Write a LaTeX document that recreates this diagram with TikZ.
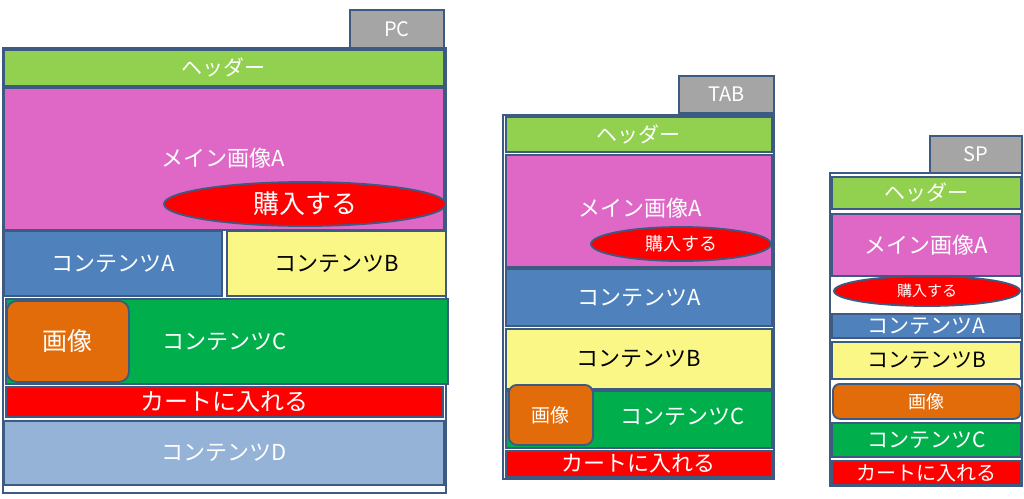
\documentclass[tikz,border=0pt]{standalone}
\usepackage{fontspec}
\setmainfont{Noto Sans CJK JP}
\usetikzlibrary{shapes.geometric}
\definecolor{bd}{HTML}{3C5A82}
\definecolor{hdr}{HTML}{92D050}
\definecolor{mag}{HTML}{DF68C6}
\definecolor{cA}{HTML}{4F81BD}
\definecolor{cB}{HTML}{FAF786}
\definecolor{cC}{HTML}{00AE4C}
\definecolor{img}{HTML}{E26B0A}
\definecolor{cart}{HTML}{FF0000}
\definecolor{cD}{HTML}{95B3D7}
\definecolor{tabg}{HTML}{A5A5A5}
\begin{document}
\begin{tikzpicture}[x=1pt,y=-1pt,
 box/.style={draw=bd,line width=1.8pt,inner sep=0pt,text=white},
 ell/.style={ellipse,draw=bd,line width=1.8pt,fill=cart,text=white,inner sep=0pt}]
\useasboundingbox (0,0) rectangle (1024,498);
\newcommand{\bx}[7]{\node[box,fill=#5,text=#6,minimum width={#3-#1},minimum height={#4-#2},font=\fontsize{#7}{#7}\selectfont,anchor=north west] at (#1,#2) {};}
% PC
\node[box,fill=tabg,minimum width=94,minimum height=38,anchor=north west,font=\fontsize{20}{20}\selectfont] (pct) at (349,9) {PC};
\node[box,fill=white,minimum width=443,minimum height=445,anchor=north west] (pc) at (2,47) {};
\node[box,fill=hdr,minimum width=440,minimum height=36,anchor=north west,font=\fontsize{21}{21}\selectfont] (pch) at (3,49) {ヘッダー};
\node[box,fill=mag,minimum width=440,minimum height=142,anchor=north west,font=\fontsize{22}{22}\selectfont] (pcm) at (3,87) {};
\node[text=white,font=\fontsize{22}{22}\selectfont] (pcmt) at (223,158) {メイン画像A};
\node[ell,minimum width=282,minimum height=44,font=\fontsize{26}{26}\selectfont] (pce) at (305,204) {購入する};
\node[box,fill=cA,minimum width=218,minimum height=65,anchor=north west,font=\fontsize{22}{22}\selectfont] (pca) at (3,230) {コンテンツA};
\node[box,fill=cB,text=black,minimum width=219,minimum height=65,anchor=north west,font=\fontsize{22}{22}\selectfont] (pcb) at (226,230) {コンテンツB};
\node[box,fill=cC,minimum width=442,minimum height=85,anchor=north west] (pcc) at (5,298) {};
\node[text=white,font=\fontsize{22}{22}\selectfont] (pcct) at (225,342) {コンテンツC};
\node[box,fill=img,rounded corners=10pt,minimum width=122,minimum height=81,anchor=north west,font=\fontsize{25}{25}\selectfont] (pci) at (6,300) {画像};
\node[box,fill=cart,minimum width=437,minimum height=30,anchor=north west,font=\fontsize{24}{24}\selectfont] (pck) at (5,386) {カートに入れる};
\node[box,fill=cD,minimum width=440,minimum height=64,anchor=north west,font=\fontsize{22}{22}\selectfont] (pcd) at (3,420) {コンテンツD};
% TAB
\node[box,fill=tabg,minimum width=95,minimum height=37,anchor=north west,font=\fontsize{20}{20}\selectfont] (tbt) at (678,75) {TAB};
\node[box,fill=white,minimum width=271,minimum height=364,anchor=north west] (tb) at (502,114) {};
\node[box,fill=hdr,minimum width=266,minimum height=35,anchor=north west,font=\fontsize{21}{21}\selectfont] (tbh) at (505,116) {ヘッダー};
\node[box,fill=mag,minimum width=266,minimum height=112,anchor=north west] (tbm) at (505,154) {};
\node[text=white,font=\fontsize{22}{22}\selectfont] (tbmt) at (640,208) {メイン画像A};
\node[ell,minimum width=180,minimum height=34,font=\fontsize{18}{18}\selectfont] (tbe) at (681,244) {購入する};
\node[box,fill=cA,minimum width=266,minimum height=57,anchor=north west,font=\fontsize{22}{22}\selectfont] (tba) at (505,268) {コンテンツA};
\node[box,fill=cB,text=black,minimum width=266,minimum height=60,anchor=north west,font=\fontsize{22}{22}\selectfont] (tbb) at (505,328) {コンテンツB};
\node[box,fill=cC,minimum width=266,minimum height=57,anchor=north west] (tbc) at (505,390) {};
\node[text=white,font=\fontsize{22}{22}\selectfont] (tbct) at (683,417) {コンテンツC};
\node[box,fill=img,rounded corners=8pt,minimum width=84,minimum height=60,anchor=north west,font=\fontsize{19}{19}\selectfont] (tbi) at (508,384) {画像};
\node[box,fill=cart,minimum width=266,minimum height=26,anchor=north west,font=\fontsize{22}{22}\selectfont] (tbk) at (505,450) {カートに入れる};
% SP
\node[box,fill=tabg,minimum width=92,minimum height=37,anchor=north west,font=\fontsize{20}{20}\selectfont] (spt) at (929,135) {SP};
\node[box,fill=white,minimum width=192,minimum height=313,anchor=north west] (sp) at (829,172) {};
\node[box,fill=hdr,minimum width=189,minimum height=32,anchor=north west,font=\fontsize{21}{21}\selectfont] (sph) at (831,176) {ヘッダー};
\node[box,fill=mag,minimum width=189,minimum height=62,anchor=north west,font=\fontsize{22}{22}\selectfont] (spm) at (831,213) {メイン画像A};
\node[ell,minimum width=186,minimum height=30,font=\fontsize{15}{15}\selectfont] (spe) at (927,291) {購入する};
\node[box,fill=cA,minimum width=189,minimum height=24,anchor=north west,font=\fontsize{21}{21}\selectfont] (spa) at (831,313) {コンテンツA};
\node[box,fill=cB,text=black,minimum width=189,minimum height=37,anchor=north west,font=\fontsize{21}{21}\selectfont] (spb) at (831,341) {コンテンツB};
\node[box,fill=img,rounded corners=7pt,minimum width=188,minimum height=35,anchor=north west,font=\fontsize{18}{18}\selectfont] (spi) at (832,383) {画像};
\node[box,fill=cC,minimum width=189,minimum height=34,anchor=north west,font=\fontsize{21}{21}\selectfont] (spc) at (831,422) {コンテンツC};
\node[box,fill=cart,minimum width=189,minimum height=24,anchor=north west,font=\fontsize{20}{20}\selectfont] (spk) at (831,460) {カートに入れる};
\end{tikzpicture}
\end{document}
